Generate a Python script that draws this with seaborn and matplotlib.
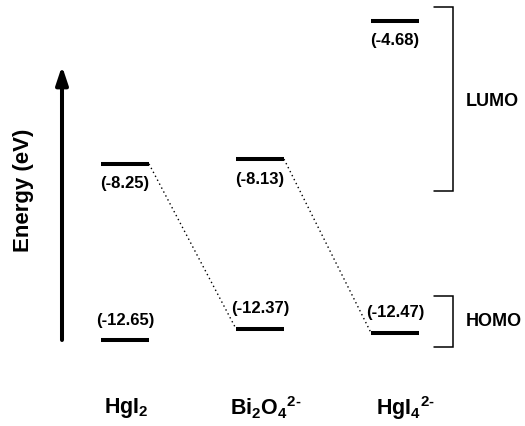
import matplotlib
matplotlib.use("Agg")
import matplotlib.pyplot as plt
import seaborn as sns
import pandas as pd

# ---- data ----
compounds = [r"HgI$_2$", r"Bi$_2$O$_4{}^{2\text{-}}$", r"HgI$_4{}^{2\text{-}}$"]
lumo = [-8.25, -8.13, -4.68]
homo = [-12.65, -12.37, -12.47]
lumo_labels = ["(-8.25)", "(-8.13)", "(-4.68)"]
homo_labels = ["(-12.65)", "(-12.37)", "(-12.47)"]
connections = [(0, 1), (1, 2)]  # LUMO of i -> HOMO of j

sns.set_theme(style="white")
plt.rcParams["font.family"] = ["Liberation Sans", "DejaVu Sans"]
plt.rcParams["text.color"] = "black"
plt.rcParams["mathtext.fontset"] = "custom"
plt.rcParams["mathtext.rm"] = "Liberation Sans:bold"
plt.rcParams["mathtext.it"] = "Liberation Sans:bold"
plt.rcParams["mathtext.bf"] = "Liberation Sans:bold"

W, H = 525, 426
fig = plt.figure(figsize=(W / 100, H / 100), dpi=100)
ax = fig.add_axes([0, 0, 1, 1])

# pixel <-> data helpers (for layout of decorations)
X0, DX = 125.0, 135.0
Y_REF, E_REF, SLOPE = 21.0, -4.68, 40.03
def px_x(p):
    return (p - X0) / DX
def px_y(p):
    return E_REF - (p - Y_REF) / SLOPE

half = 24 / DX
rows = []
for i in range(len(compounds)):
    for lvl, vals in (("L", lumo), ("H", homo)):
        rows.append({"x": i - half, "E": vals[i], "id": f"{lvl}{i}"})
        rows.append({"x": i + half, "E": vals[i], "id": f"{lvl}{i}"})
levels = pd.DataFrame(rows)
sns.lineplot(data=levels, x="x", y="E", units="id", estimator=None,
             color="black", lw=2.9, ax=ax, sort=False, legend=False,
             solid_capstyle="butt")

crow = []
for k, (i, j) in enumerate(connections):
    crow.append({"x": i + half, "E": lumo[i], "id": k})
    crow.append({"x": j - half, "E": homo[j], "id": k})
conn = pd.DataFrame(crow)
sns.lineplot(data=conn, x="x", y="E", units="id", estimator=None,
             color="black", lw=1.0, ax=ax, sort=False, legend=False,
             linestyle=(0, (1, 2.2)))

off = 14.4
name_shift_px = [1, 6, 10]
for i in range(len(compounds)):
    ax.annotate(lumo_labels[i], (i, lumo[i]), xytext=(0, -off),
                textcoords="offset points", ha="center", va="center",
                fontsize=12, fontweight="bold", color="black")
    ax.annotate(homo_labels[i], (i, homo[i]), xytext=(0, off),
                textcoords="offset points", ha="center", va="center",
                fontsize=12, fontweight="bold", color="black")
    ax.annotate(compounds[i], (i, px_y(408)), xytext=(name_shift_px[i] * 0.72, 0),
                textcoords="offset points", ha="center", va="center",
                fontsize=15.5, fontweight="bold", color="black")

# energy arrow
xa = px_x(62)
ax.annotate("", xy=(xa, px_y(66)), xytext=(xa, px_y(340)),
            arrowprops=dict(arrowstyle="-|>,head_length=0.9,head_width=0.3",
                            lw=2.9, color="black", shrinkA=0, shrinkB=0))
ax.text(px_x(23), px_y(190), "Energy (eV)", rotation=90, ha="center",
        va="center", fontsize=16, fontweight="bold", color="black")

# brackets
def bracket(ytop, ybot):
    xs = [px_x(434), px_x(452.5), px_x(452.5), px_x(434)]
    ys = [px_y(ytop), px_y(ytop), px_y(ybot), px_y(ybot)]
    ax.plot(xs, ys, color="black", lw=1.1, solid_joinstyle="miter")
bracket(7, 191)
bracket(296, 347)
ax.text(px_x(466), px_y(101), "LUMO", ha="left", va="center",
        fontsize=13, fontweight="bold", color="black")
ax.text(px_x(466), px_y(322), "HOMO", ha="left", va="center",
        fontsize=13, fontweight="bold", color="black")

ax.set_xlim(px_x(0), px_x(W))
ax.set_ylim(px_y(H), px_y(0))
ax.set_axis_off()
fig.savefig("out.png", dpi=100)
